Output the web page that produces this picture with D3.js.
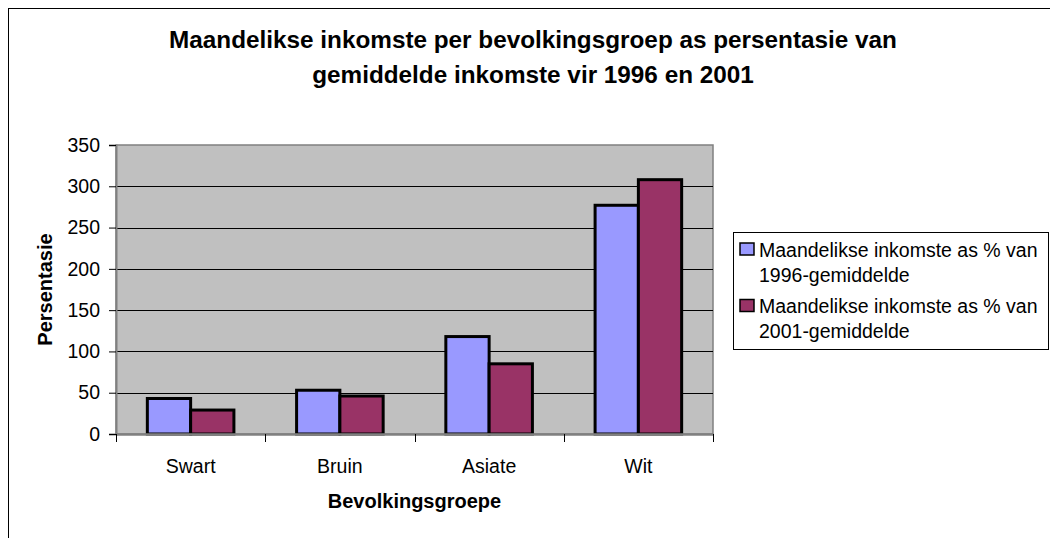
<!DOCTYPE html>
<html>
<head>
<meta charset="utf-8">
<script src="https://cdn.jsdelivr.net/npm/d3@7"></script>
<style>
  body { margin: 0; background: #fff; }
  svg { display: block; font-family: "Liberation Sans", Arial, sans-serif; }
</style>
</head>
<body>
<div class="chart-sec"></div>
<script>
(function(){
  'use strict';

  // data
  var categories = ['Swart', 'Bruin', 'Asiate', 'Wit'];
  var series1996 = [43, 53, 118, 277];
  var series2001 = [29, 46, 85, 308];
  var seriesNames = ['Maandelikse inkomste as % van 1996-gemiddelde',
                     'Maandelikse inkomste as % van 2001-gemiddelde'];
  var legendLines = [['Maandelikse inkomste as % van', '1996-gemiddelde'],
                     ['Maandelikse inkomste as % van', '2001-gemiddelde']];
  var yTicks = [0, 50, 100, 150, 200, 250, 300, 350];
  var colors = ['#9999FF', '#993366'];

  var W = 1050, H = 538;
  var plot = {left: 116, right: 713, top: 145, bottom: 434};

  var svg = d3.select('.chart-sec').append('svg')
    .attr('width', W).attr('height', H);

  // outer chart border (runs off the page right & bottom)
  svg.append('rect')
    .attr('x', 8.5).attr('y', 8.5)
    .attr('width', W + 20).attr('height', H + 20)
    .attr('fill', '#fff').attr('stroke', '#000').attr('stroke-width', 1);

  // title
  var title = svg.append('text')
    .attr('x', 533).attr('y', 48)
    .attr('text-anchor', 'middle')
    .style('font-weight', 'bold').style('font-size', '24.3px');
  title.append('tspan').attr('x', 533).attr('y', 48)
    .text('Maandelikse inkomste per bevolkingsgroep as persentasie van');
  title.append('tspan').attr('x', 533).attr('y', 83)
    .text('gemiddelde inkomste vir 1996 en 2001');

  var x0 = d3.scaleBand().domain(categories)
    .range([plot.left, plot.right]).paddingInner(0.42).paddingOuter(0.21);
  var x1 = d3.scaleBand().domain([0, 1]).range([0, x0.bandwidth()]);
  var y = d3.scaleLinear().domain([0, 350]).range([plot.bottom, plot.top]);

  // plot background
  svg.append('rect')
    .attr('x', plot.left).attr('y', plot.top)
    .attr('width', plot.right - plot.left).attr('height', plot.bottom - plot.top)
    .attr('fill', '#C0C0C0').attr('stroke', '#808080').attr('stroke-width', 1.5);

  // gridlines
  svg.append('g').selectAll('line')
    .data(yTicks.filter(function(d){ return d > 0 && d < 350; }))
    .enter().append('line')
    .attr('x1', plot.left).attr('x2', plot.right)
    .attr('y1', function(d){ return Math.round(y(d)) + 0.5; })
    .attr('y2', function(d){ return Math.round(y(d)) + 0.5; })
    .attr('stroke', '#000').attr('stroke-width', 1);

  // bars
  var rows = categories.map(function(c, i){ return {cat: c, vals: [series1996[i], series2001[i]]}; });
  var groups = svg.append('g').selectAll('g')
    .data(rows).enter().append('g')
    .attr('transform', function(d){ return 'translate(' + x0(d.cat) + ',0)'; });
  groups.selectAll('rect')
    .data(function(d){ return d.vals.map(function(v, k){ return {k: k, v: v}; }); })
    .enter().append('rect')
    .attr('x', function(d){ return x1(d.k); })
    .attr('y', function(d){ return y(d.v); })
    .attr('width', x1.bandwidth())
    .attr('height', function(d){ return plot.bottom - y(d.v); })
    .attr('fill', function(d){ return colors[d.k]; })
    .attr('stroke', '#000').attr('stroke-width', 3);

  // y axis
  var yAxis = svg.append('g')
    .attr('transform', 'translate(' + plot.left + ',0)')
    .call(d3.axisLeft(y).tickValues(yTicks).tickSize(7).tickPadding(9));
  yAxis.select('.domain').attr('stroke', '#808080').attr('stroke-width', 2);
  yAxis.selectAll('.tick line').attr('stroke', '#000');
  yAxis.selectAll('text').style('font-size', '19.5px').attr('fill', '#000')
    .attr('font-family', null);

  // x axis
  var xAxis = svg.append('g')
    .attr('transform', 'translate(0,' + plot.bottom + ')')
    .call(d3.axisBottom(x0).tickSize(0).tickPadding(25));
  xAxis.select('.domain').attr('stroke', '#808080').attr('stroke-width', 2.5);
  xAxis.selectAll('text').style('font-size', '19.5px').attr('fill', '#000')
    .attr('font-family', null);
  // category boundary ticks
  xAxis.append('g').selectAll('line')
    .data(categories.concat(['end']))
    .enter().append('line')
    .attr('x1', function(d, i){ return Math.round(plot.left + i * x0.step()) + 0.5; })
    .attr('x2', function(d, i){ return Math.round(plot.left + i * x0.step()) + 0.5; })
    .attr('y1', 0).attr('y2', 8)
    .attr('stroke', '#000');

  // axis titles
  svg.append('text')
    .attr('transform', 'translate(52,' + (plot.top + plot.bottom) / 2 + ') rotate(-90)')
    .attr('text-anchor', 'middle')
    .style('font-weight', 'bold').style('font-size', '20px')
    .text('Persentasie');
  svg.append('text')
    .attr('x', (plot.left + plot.right) / 2).attr('y', 508)
    .attr('text-anchor', 'middle')
    .style('font-weight', 'bold').style('font-size', '20px')
    .text('Bevolkingsgroepe');

  // legend
  var lg = svg.append('g').attr('transform', 'translate(733,232)');
  lg.append('rect').attr('x', 0.5).attr('y', 0.5)
    .attr('width', 315).attr('height', 117)
    .attr('fill', '#fff').attr('stroke', '#000').attr('stroke-width', 1);
  var items = lg.selectAll('g.item').data(seriesNames)
    .enter().append('g').attr('class', 'item')
    .attr('transform', function(d, i){ return 'translate(0,' + (i * 56.5) + ')'; });
  items.append('rect')
    .attr('x', 7).attr('y', 11).attr('width', 14).attr('height', 12)
    .attr('fill', function(d, i){ return colors[i]; })
    .attr('stroke', '#000').attr('stroke-width', 1.5);
  items.append('text')
    .style('font-size', '19.5px')
    .selectAll('tspan')
    .data(function(d, i){ return legendLines[i]; })
    .enter().append('tspan')
    .attr('x', 26)
    .attr('y', function(d, j){ return 24.5 + j * 25; })
    .text(function(d){ return d; });

})();
</script>
</body>
</html>
